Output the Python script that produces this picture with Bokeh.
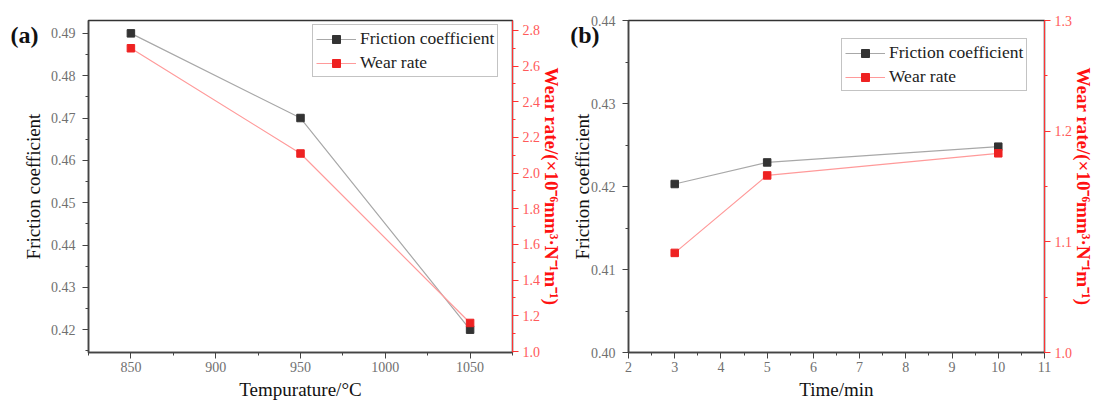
from bokeh.plotting import figure
from bokeh.models import (Range1d, LinearAxis, SingleIntervalTicker, PrintfTickFormatter,
                          FixedTicker, Legend)
from bokeh.layouts import row
from bokeh.embed import file_html
from bokeh.resources import INLINE

# ---------------- data ----------------
temperature = [850, 950, 1050]
friction_a = [0.490, 0.470, 0.420]
wear_a = [2.70, 2.11, 1.16]

time_min = [3, 5, 10]
friction_b = [0.4203, 0.4229, 0.4248]
wear_b = [1.09, 1.16, 1.18]

SERIF = "Liberation Serif"
GRAY_LINE = "#a8a8a8"
GRAY_MARK = "#333333"
RED_LINE = "#ff9a9a"
RED_MARK = "#ee2222"
RED_AXIS = "#ff3333"
WEAR_LABEL = "Wear rate/(×10⁻⁶mm³·N⁻¹m⁻¹)"


def style_axis(ax, color, interval, fmt, label, label_color, bold=False,
               standoff=5, label_standoff=4):
    ax.ticker = SingleIntervalTicker(interval=interval, num_minor_ticks=2)
    ax.formatter = PrintfTickFormatter(format=fmt)
    ax.axis_line_color = color
    ax.major_tick_line_color = color
    ax.minor_tick_line_color = color
    ax.major_tick_out = 6
    ax.major_tick_in = 0
    ax.minor_tick_out = 3
    ax.minor_tick_in = 0
    ax.major_label_text_font = SERIF
    ax.major_label_text_font_size = "14px"
    ax.major_label_text_color = "#707070" if color != RED_AXIS else "#ff5a5a"
    ax.major_label_standoff = standoff
    ax.axis_label = label
    ax.axis_label_text_font = SERIF
    ax.axis_label_text_font_size = "19px"
    ax.axis_label_text_color = label_color
    ax.axis_label_text_font_style = "bold" if bold else "normal"
    ax.axis_label_standoff = label_standoff


def make_panel(x, fr, wr, xr, yr, wr_range, x_int, y_int, w_int, xfmt, yfmt, wfmt,
               xlabel, width, borders, tag, tag_y, tag_standoff, legend_xy,
               left_label_standoff):
    p = figure(width=width, height=402, output_backend="svg", toolbar_location=None,
               x_range=Range1d(*xr), y_range=Range1d(*yr),
               min_border_left=borders[0], min_border_right=borders[1],
               min_border_top=borders[2], min_border_bottom=borders[3])
    p.xgrid.visible = False
    p.ygrid.visible = False
    p.outline_line_color = "#333333"
    p.outline_line_width = 1.5
    p.background_fill_color = "white"
    p.border_fill_color = "white"
    p.extra_y_ranges = {"wear": Range1d(*wr_range)}

    style_axis(p.xaxis[0], "#444444", x_int, xfmt, xlabel, "#111111",
               standoff=3, label_standoff=4)
    style_axis(p.yaxis[0], "#444444", y_int, yfmt, "Friction coefficient", "#111111",
               standoff=7, label_standoff=left_label_standoff)
    p.xaxis[0].axis_line_width = 1.5
    p.yaxis[0].axis_line_width = 1.5

    rax = LinearAxis(y_range_name="wear")
    style_axis(rax, RED_AXIS, w_int, wfmt, WEAR_LABEL, "#ff1111", bold=True,
               standoff=4, label_standoff=-2)
    p.add_layout(rax, "right")

    # panel tag "(a)" / "(b)" drawn as the single tick label of a bare outer axis
    tag_ax = LinearAxis(ticker=FixedTicker(ticks=[tag_y], minor_ticks=[]),
                        formatter=PrintfTickFormatter(format=tag))
    tag_ax.axis_line_color = None
    tag_ax.major_tick_line_color = None
    tag_ax.minor_tick_line_color = None
    tag_ax.major_tick_out = 0
    tag_ax.major_tick_in = 0
    tag_ax.minor_tick_out = 0
    tag_ax.major_label_standoff = tag_standoff
    tag_ax.major_label_text_font = SERIF
    tag_ax.major_label_text_font_size = "24px"
    tag_ax.major_label_text_font_style = "bold"
    tag_ax.major_label_text_color = "#111111"
    p.add_layout(tag_ax, "left")

    l1 = p.line(x, fr, line_color=GRAY_LINE, line_width=1.2)
    s1 = p.scatter(x, fr, marker="square", size=7.5, fill_color=GRAY_MARK, line_color=GRAY_MARK)
    l2 = p.line(x, wr, line_color=RED_LINE, line_width=1.2, y_range_name="wear")
    s2 = p.scatter(x, wr, marker="square", size=7.5, fill_color=RED_MARK, line_color=RED_MARK,
                   y_range_name="wear")

    legend = Legend(items=[("Friction coefficient", [l1, s1]), ("Wear rate", [l2, s2])],
                    location=legend_xy)
    legend.label_text_font = SERIF
    legend.label_text_font_size = "17.5px"
    legend.label_text_color = "#222222"
    legend.glyph_width = 40
    legend.label_height = 20
    legend.glyph_height = 20
    legend.label_standoff = 4
    legend.spacing = 3
    legend.padding = 3
    legend.margin = 0
    legend.border_line_color = "#888888"
    legend.border_line_width = 1
    legend.background_fill_alpha = 1
    p.add_layout(legend)
    return p


pa = make_panel(temperature, friction_a, wear_a, (825, 1075), (0.41461, 0.49304),
                (0.99444, 2.8556),
                50, 0.01, 0.2, "%d", "%.2f", "%.1f", "Tempurature/°C", 565,
                (88, 53, 20, 47), "(a)", 0.4895, -19, (224, 275), 4)

pb = make_panel(time_min, friction_b, wear_b, (2, 11), (0.40, 0.44), (1.0, 1.3),
                1, 0.01, 0.1, "%d", "%.2f", "%.1f", "Time/min", 533,
                (63, 54, 20, 47), "(b)", 0.4382, -31, (213, 261), -5)

layout = row(pa, pb)
open("out.html", "w").write(file_html(layout, INLINE))
